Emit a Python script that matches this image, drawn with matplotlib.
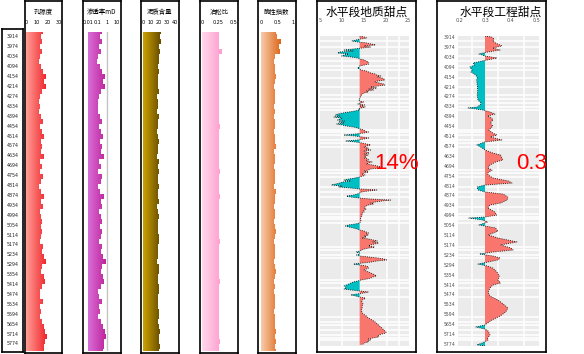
import numpy as np
import matplotlib
matplotlib.use('Agg')
import matplotlib.pyplot as plt
from matplotlib.colors import LinearSegmentedColormap

# ---- data ----
DEPTH_LABELS = [3914, 3974, 4034, 4094, 4154, 4214, 4274, 4334, 4394, 4454, 4514, 4574,
                4634, 4694, 4754, 4814, 4874, 4934, 4994, 5054, 5114, 5174, 5234, 5294,
                5354, 5414, 5474, 5534, 5594, 5654, 5714, 5774]

DEPTH_LOG = [3884, 3914, 3944, 3974, 4004, 4034, 4064, 4094, 4124, 4154, 4184, 4214, 4244,
             4274, 4304, 4334, 4364, 4394, 4424, 4454, 4484, 4514, 4544, 4574, 4604, 4634,
             4664, 4694, 4724, 4754, 4784, 4814, 4844, 4874, 4904, 4934, 4964, 4994, 5024,
             5054, 5084, 5114, 5144, 5174, 5204, 5234, 5264, 5294, 5324, 5354, 5384, 5414,
             5444, 5474, 5504, 5534, 5564, 5594, 5624, 5654, 5684, 5714, 5744, 5774, 5804]

POROSITY = [15.5, 13.5, 15.0, 13.0, 14.5, 12.5, 11.5, 13.5, 15.5, 18.5, 16.0, 18.0, 14.5,
            13.0, 12.0, 12.5, 12.0, 14.0, 15.5, 13.0, 14.5, 16.0, 13.5, 15.0, 14.0, 16.5,
            13.0, 14.5, 12.5, 15.5, 14.0, 12.0, 13.5, 16.5, 14.0, 15.5, 13.0, 14.0, 15.0,
            13.5, 15.0, 14.0, 13.0, 15.5, 14.5, 16.0, 18.5, 15.0, 14.0, 16.0, 17.0, 14.5,
            12.5, 13.0, 15.5, 13.0, 13.5, 12.5, 14.5, 16.0, 17.5, 19.0, 17.0, 16.5, 16.0]

PERM = [0.30, 0.17, 0.26, 0.14, 0.22, 0.11, 0.09, 0.17, 0.30, 0.62, 0.38, 0.55, 0.22,
        0.14, 0.10, 0.12, 0.10, 0.19, 0.30, 0.14, 0.22, 0.38, 0.17, 0.26, 0.20, 0.42,
        0.14, 0.22, 0.11, 0.30, 0.20, 0.10, 0.17, 0.42, 0.20, 0.30, 0.14, 0.20, 0.26,
        0.17, 0.26, 0.20, 0.14, 0.30, 0.22, 0.38, 0.65, 0.26, 0.20, 0.38, 0.48, 0.22,
        0.11, 0.14, 0.30, 0.14, 0.17, 0.12, 0.22, 0.38, 0.55, 0.80, 0.48, 0.42, 0.38]

CLAY = [22.5, 21.0, 22.0, 20.5, 21.5, 19.5, 20.0, 19.0, 19.5, 18.5, 19.0, 18.5, 19.5,
        18.0, 18.5, 19.0, 18.0, 19.5, 18.5, 19.0, 18.0, 18.5, 20.0, 18.5, 19.0, 18.0,
        19.5, 18.5, 20.0, 19.0, 18.5, 20.5, 19.0, 18.5, 19.5, 18.0, 19.0, 20.0, 18.5,
        19.0, 18.5, 19.5, 20.5, 19.0, 18.5, 19.0, 18.0, 19.5, 20.0, 19.0, 18.5, 19.5,
        20.5, 19.0, 18.5, 19.0, 19.5, 20.0, 19.0, 20.5, 21.0, 19.5, 20.0, 21.0, 20.5]

POISSON = [0.26, 0.27, 0.26, 0.265, 0.31, 0.27, 0.26, 0.27, 0.265, 0.27, 0.26, 0.265, 0.27,
           0.26, 0.265, 0.27, 0.26, 0.27, 0.26, 0.28, 0.27, 0.265, 0.26, 0.27, 0.265, 0.27,
           0.26, 0.265, 0.275, 0.27, 0.265, 0.26, 0.27, 0.28, 0.265, 0.27, 0.26, 0.265, 0.27,
           0.26, 0.27, 0.265, 0.28, 0.27, 0.265, 0.26, 0.27, 0.265, 0.26, 0.27, 0.28, 0.265,
           0.27, 0.26, 0.265, 0.27, 0.26, 0.265, 0.27, 0.26, 0.265, 0.27, 0.275, 0.27, 0.265]

BRITTLE = [0.48, 0.50, 0.62, 0.55, 0.60, 0.45, 0.42, 0.45, 0.43, 0.46, 0.44, 0.42, 0.44,
           0.43, 0.45, 0.42, 0.44, 0.41, 0.43, 0.45, 0.42, 0.44, 0.43, 0.46, 0.42, 0.44,
           0.43, 0.41, 0.45, 0.43, 0.44, 0.42, 0.46, 0.43, 0.44, 0.42, 0.45, 0.43, 0.41,
           0.44, 0.46, 0.43, 0.42, 0.44, 0.45, 0.43, 0.42, 0.44, 0.46, 0.43, 0.41, 0.44,
           0.42, 0.45, 0.43, 0.44, 0.42, 0.45, 0.43, 0.44, 0.46, 0.44, 0.47, 0.45, 0.46]

# geological sweet spot (depth, value), baseline 14
GEO_POINTS = [
    (3908, 14.0), (3914, 15.0), (3920, 15.6), (3926, 14.2), (3932, 13.2), (3938, 12.2),
    (3944, 13.6), (3950, 15.5), (3962, 17.6), (3968, 15.0), (3975, 16.5), (3981, 14.5),
    (3987, 12.5), (3993, 10.5), (3999, 12.5), (4005, 9.5), (4011, 9.0), (4017, 11.5),
    (4023, 10.5), (4029, 9.9), (4035, 12.0), (4041, 13.5), (4047, 14.0), (4053, 15.0),
    (4059, 15.4), (4066, 16.0), (4072, 15.8), (4078, 16.0), (4084, 15.0), (4090, 14.0),
    (4096, 13.8), (4102, 13.5), (4108, 14.0), (4114, 14.3), (4120, 15.5), (4126, 16.0),
    (4132, 16.5), (4138, 17.5), (4144, 17.8), (4150, 18.8), (4156, 18.0), (4162, 19.0),
    (4168, 19.5), (4175, 19.7), (4181, 18.0), (4187, 17.5), (4193, 18.5), (4199, 19.4),
    (4205, 19.7), (4211, 18.0), (4217, 16.5), (4223, 17.9), (4229, 16.0), (4235, 17.2),
    (4241, 15.5), (4247, 16.0), (4253, 15.0), (4260, 14.6), (4272, 14.2), (4284, 14.1),
    (4296, 13.8), (4302, 14.0), (4308, 14.9), (4314, 14.3), (4320, 13.6), (4326, 15.1),
    (4332, 14.2), (4338, 15.3), (4344, 14.4), (4350, 13.7), (4356, 14.0), (4362, 13.0),
    (4369, 11.5), (4375, 10.0), (4381, 9.0), (4387, 8.5), (4393, 9.5), (4399, 8.1),
    (4405, 10.0), (4411, 9.5), (4417, 9.0), (4423, 10.5), (4429, 9.2), (4435, 10.5),
    (4441, 8.8), (4447, 10.0), (4453, 11.0), (4459, 12.5), (4465, 13.5), (4471, 14.0),
    (4478, 15.0), (4484, 15.2), (4490, 16.0), (4496, 14.8), (4502, 13.0), (4508, 10.4),
    (4514, 13.0), (4520, 14.5), (4526, 16.0), (4532, 15.0), (4538, 13.5), (4544, 10.8),
    (4550, 13.0), (4556, 14.5), (4562, 15.5), (4568, 16.5), (4575, 15.5), (4581, 15.0),
    (4587, 16.0), (4593, 15.5), (4599, 16.5), (4605, 15.0), (4611, 15.5), (4617, 16.2),
    (4623, 15.0), (4629, 16.0), (4635, 15.2), (4641, 15.5), (4647, 15.0), (4653, 15.8),
    (4659, 16.0), (4665, 15.5), (4671, 16.8), (4678, 16.0), (4684, 15.5), (4690, 17.0),
    (4696, 18.0), (4702, 19.0), (4708, 18.3), (4714, 16.5), (4720, 16.0), (4726, 15.0),
    (4732, 16.0), (4738, 15.0), (4744, 14.5), (4750, 15.2), (4756, 14.8), (4762, 14.0),
    (4768, 13.0), (4775, 11.5), (4781, 10.4), (4787, 12.0), (4793, 10.0), (4799, 9.5),
    (4805, 8.5), (4811, 7.6), (4817, 10.0), (4823, 9.2), (4829, 12.0), (4835, 14.0),
    (4841, 17.9), (4847, 16.0), (4853, 14.5), (4859, 14.0), (4866, 13.5), (4872, 12.5),
    (4878, 11.0), (4884, 12.0), (4890, 14.0), (4896, 16.5), (4902, 21.0), (4908, 19.0),
    (4914, 17.5), (4920, 16.5), (4926, 17.2), (4932, 16.0), (4938, 15.5), (4944, 15.2),
    (4950, 15.0), (4956, 15.5), (4962, 15.1), (4968, 14.8), (4975, 15.0), (4981, 14.6),
    (4987, 14.4), (4993, 14.6), (5005, 14.3), (5017, 14.2), (5029, 14.3), (5041, 14.0),
    (5047, 13.0), (5053, 11.5), (5059, 10.8), (5065, 11.5), (5071, 12.5), (5078, 13.5),
    (5084, 14.0), (5090, 15.0), (5096, 15.5), (5102, 16.0), (5108, 15.5), (5114, 16.0),
    (5120, 15.0), (5126, 15.5), (5132, 14.5), (5138, 16.0), (5144, 17.0), (5150, 18.0),
    (5156, 17.0), (5162, 18.3), (5168, 17.5), (5174, 16.5), (5180, 16.0), (5187, 17.4),
    (5193, 16.0), (5199, 15.0), (5205, 14.5), (5211, 14.0), (5217, 13.2), (5223, 14.0),
    (5229, 14.0), (5235, 13.3), (5241, 14.0), (5247, 16.0), (5253, 18.0), (5259, 19.5),
    (5265, 20.1), (5271, 18.0), (5278, 16.5), (5284, 14.5), (5290, 12.6), (5296, 14.0),
    (5302, 15.5), (5308, 16.0), (5314, 16.0), (5320, 15.5), (5326, 15.0), (5332, 15.5),
    (5338, 16.0), (5344, 16.5), (5350, 17.0), (5356, 17.5), (5362, 17.8), (5368, 17.0),
    (5375, 16.5), (5381, 15.5), (5387, 14.3), (5393, 13.5), (5399, 12.5), (5405, 12.0),
    (5411, 11.5), (5417, 11.0), (5423, 10.5), (5429, 10.8), (5435, 11.0), (5441, 10.4),
    (5447, 12.0), (5453, 14.0), (5459, 16.0), (5465, 15.0), (5471, 13.5), (5477, 12.0),
    (5483, 13.0), (5490, 14.0), (5496, 15.3), (5502, 15.0), (5508, 14.5), (5520, 14.5),
    (5532, 14.8), (5544, 14.5), (5556, 14.6), (5568, 14.4), (5580, 14.5), (5593, 14.8),
    (5605, 15.5), (5617, 16.0), (5629, 16.8), (5641, 17.5), (5653, 18.0), (5665, 18.5),
    (5677, 19.0), (5690, 19.5), (5702, 20.0), (5708, 19.9), (5714, 19.0), (5720, 18.5),
    (5726, 18.0), (5732, 18.3), (5738, 17.0), (5744, 16.0), (5750, 16.5), (5756, 15.8),
    (5762, 16.0), (5768, 15.0), (5774, 14.8), (5780, 14.5),
]

# engineering sweet spot (depth, value), baseline 0.3
ENG_POINTS = [
    (3908, 0.300), (3914, 0.325), (3926, 0.335), (3938, 0.330), (3950, 0.340), (3968, 0.365),
    (3981, 0.330), (3993, 0.358), (4005, 0.310), (4017, 0.277), (4029, 0.300), (4041, 0.346),
    (4053, 0.310), (4059, 0.290), (4072, 0.254), (4084, 0.260), (4096, 0.242), (4114, 0.250),
    (4126, 0.246), (4144, 0.265), (4162, 0.270), (4175, 0.268), (4205, 0.270), (4235, 0.272),
    (4266, 0.270), (4296, 0.273), (4314, 0.285), (4326, 0.281), (4338, 0.270), (4344, 0.235),
    (4356, 0.290), (4369, 0.320), (4381, 0.338), (4393, 0.310), (4405, 0.325), (4417, 0.331),
    (4435, 0.320), (4453, 0.330), (4478, 0.315), (4496, 0.330), (4508, 0.346), (4520, 0.320),
    (4538, 0.365), (4550, 0.300), (4568, 0.269), (4587, 0.290), (4599, 0.300), (4617, 0.330),
    (4629, 0.360), (4647, 0.365), (4659, 0.369), (4672, 0.340), (4690, 0.319), (4708, 0.310),
    (4720, 0.327), (4738, 0.310), (4750, 0.312), (4768, 0.330), (4787, 0.390), (4799, 0.404),
    (4811, 0.300), (4823, 0.270), (4841, 0.273), (4853, 0.300), (4866, 0.370), (4884, 0.388),
    (4902, 0.385), (4920, 0.360), (4932, 0.319), (4950, 0.310), (4975, 0.338), (4993, 0.345),
    (5005, 0.300), (5011, 0.238), (5023, 0.290), (5035, 0.310), (5053, 0.277), (5071, 0.340),
    (5090, 0.350), (5114, 0.312), (5132, 0.350), (5156, 0.423), (5174, 0.360), (5193, 0.400),
    (5205, 0.408), (5217, 0.330), (5229, 0.279), (5241, 0.330), (5253, 0.358), (5265, 0.350),
    (5278, 0.310), (5290, 0.273), (5302, 0.310), (5314, 0.330), (5338, 0.346), (5362, 0.355),
    (5387, 0.350), (5405, 0.360), (5417, 0.330), (5435, 0.319), (5459, 0.312), (5484, 0.319),
    (5508, 0.350), (5532, 0.370), (5556, 0.388), (5580, 0.380), (5605, 0.358), (5629, 0.327),
    (5647, 0.310), (5659, 0.300), (5671, 0.265), (5684, 0.300), (5696, 0.312), (5720, 0.319),
    (5738, 0.310), (5750, 0.312), (5768, 0.290), (5780, 0.269), (5786, 0.300),
]

# layer boundaries shown as white lines in the sweet spot panels
LAYER_DEPTHS = [3938, 3975, 4029, 4059, 4090, 4114, 4162, 4217, 4266, 4290, 4314, 4338,
                4356, 4478, 4490, 4508, 4538, 4556, 4581, 4720, 4738, 4762, 4823, 4853,
                4884, 4944, 4987, 5005, 5017, 5041, 5187, 5205, 5235, 5253, 5387, 5405,
                5435, 5490, 5611, 5641, 5659, 5690, 5720, 5738, 5750]

GEO_BASE = 14
ENG_BASE = 0.3

# ---- layout helpers (pixel based) ----
W, H = 584, 354
CJK = ['Noto Sans CJK SC', 'DejaVu Sans']


def dep(y):
    return 3914 + (y - 37) * 6.06


def rect(x0, y0, x1, y1):
    return [x0 / W, 1 - y1 / H, (x1 - x0) / W, (y1 - y0) / H]


def frame_box(x0, y0, x1, y1):
    a = fig.add_axes(rect(x0, y0, x1, y1))
    a.set_xticks([])
    a.set_yticks([])
    for s in a.spines.values():
        s.set_linewidth(1.2)
    return a


def grad_fill(ax, depth, vals, x0, c0, c1):
    poly = ax.fill_betweenx(depth, x0, vals, step='mid', facecolor='none', edgecolor='none')
    cmap = LinearSegmentedColormap.from_list('g', [c0, c1])
    im = ax.imshow(np.linspace(0, 1, 256)[None, :], cmap=cmap, aspect='auto',
                   extent=[x0, max(vals), depth[-1], depth[0]], interpolation='bilinear')
    im.set_clip_path(poly.get_paths()[0], ax.transData)


fig = plt.figure(figsize=(W / 100, H / 100), dpi=100)

# depth track
ad = frame_box(2, 29, 23, 352)
ad.set_xlim(0, 1)
ad.set_ylim(dep(352), dep(29))
for d in DEPTH_LABELS:
    ad.text(0.5, d, str(d), ha='center', va='center', fontsize=3.4, color='#222222')

# log tracks
tracks = [
    ('孔隙度', POROSITY, 0, (26, 59), (0, 30), [0, 10, 20, 30], ['0', '10', '20', '30'],
     (25, 62), '#FF9F96', '#F0232B'),
    ('渗透率mD', list(np.log10(PERM)), -2, (88, 117), (-2, 1), [-2, -1, 0, 1],
     ['0.01', '0.1', '1', '10'], (83, 121), '#D870D8', '#BE1F98'),
    ('泥质含量', CLAY, 0, (143, 175), (0, 40), [0, 10, 20, 30, 40],
     ['0', '10', '20', '30', '40'], (141, 179), '#CCA300', '#654A00'),
    ('泊松比', POISSON, 0, (202, 234), (0, 0.5), [0, 0.25, 0.5], ['0', '0.25', '0.5'],
     (200, 238), '#FFD9EC', '#FF9CCD'),
    ('脆性指数', BRITTLE, 0, (261, 293), (0, 1), [0, 0.5, 1], ['0', '0.5', '1'],
     (258, 296), '#F7CDAC', '#DD6518'),
]

for title, vals, x0, (px0, px1), lims, ticks, labels, (bx0, bx1), c0, c1 in tracks:
    frame_box(bx0, 1, bx1, 353)
    fig.text((bx0 + bx1) / 2 / W, 1 - 12 / H, title, fontsize=4.6, family=CJK,
             ha='center', va='center')
    a = fig.add_axes(rect(px0, 32, px1, 351))
    a.set_facecolor('none')
    for s in a.spines.values():
        s.set_visible(False)
    grad_fill(a, DEPTH_LOG, vals, x0, c0, c1)
    if title == '渗透率mD':
        a.plot([0, 0], [DEPTH_LOG[0], DEPTH_LOG[-1]], color='#C4C4C4', lw=1.0)
    a.set_xlim(lims)
    a.set_ylim(DEPTH_LOG[-1], DEPTH_LOG[0])
    a.xaxis.tick_top()
    a.set_xticks(ticks)
    a.set_xticklabels(labels, fontsize=3.5)
    a.set_yticks([])
    a.tick_params(length=0, pad=5.2)

# sweet spot tracks
geo_d, geo_v = (np.array(t) for t in zip(*GEO_POINTS))
eng_d, eng_v = (np.array(t) for t in zip(*ENG_POINTS))

sweet = [
    ('水平段地质甜点', geo_d, geo_v, GEO_BASE, (317, 416), (320, 409), (5, 25.2),
     [5, 10, 15, 20, 25], ['5', '10', '15', '20', '25'], [10, 20.2, 23], '14%', 397, False),
    ('水平段工程甜点', eng_d, eng_v, ENG_BASE, (437, 546), (458, 539), (0.196, 0.508),
     [0.2, 0.3, 0.4, 0.5], ['0.2', '0.3', '0.4', '0.5'], [0.25, 0.35, 0.45], '0.3', 532, True),
]

for title, d, v, base, (bx0, bx1), (px0, px1), lims, ticks, labels, vgrid, big, bx, ylab in sweet:
    frame_box(bx0, 1, bx1, 352)
    a = fig.add_axes(rect(px0, 36, px1, 346))
    a.set_facecolor('#EBEBEB')
    for s in a.spines.values():
        s.set_visible(False)
    for g in vgrid:
        a.axvline(g, color='white', lw=1.1, zorder=1)
    for g in LAYER_DEPTHS:
        a.axhline(g, color='white', lw=1.1, zorder=1)
    a.fill_betweenx(d, base, v, where=v >= base, interpolate=True, color='#F8766D',
                    lw=0, zorder=2)
    a.fill_betweenx(d, base, v, where=v <= base, interpolate=True, color='#00BFC4',
                    lw=0, zorder=2)
    a.plot(v, d, color='black', lw=0.6, ls=(0, (1, 1.6)), zorder=3)
    a.set_xlim(lims)
    a.set_ylim(dep(346), dep(36))
    a.xaxis.tick_top()
    a.set_xticks(ticks)
    a.set_xticklabels(labels, fontsize=3.5, color='#4D4D4D')
    a.tick_params(axis='x', length=0, pad=9.5)
    if ylab:
        a.set_yticks(DEPTH_LABELS)
        a.set_yticklabels([str(t) for t in DEPTH_LABELS], fontsize=3.3, color='#4D4D4D')
        a.tick_params(axis='y', length=0, pad=2)
    else:
        a.set_yticks([])
    fig.text((px0 + px1) / 2 / W + 0.004, 1 - 12 / H, title, fontsize=8.5, family=CJK,
             ha='center', va='center')
    fig.text(bx / W, 1 - 164 / H, big, fontsize=16, color='#FF0000',
             family='Liberation Sans', ha='center', va='center')

fig.savefig('out.png', dpi=100)
